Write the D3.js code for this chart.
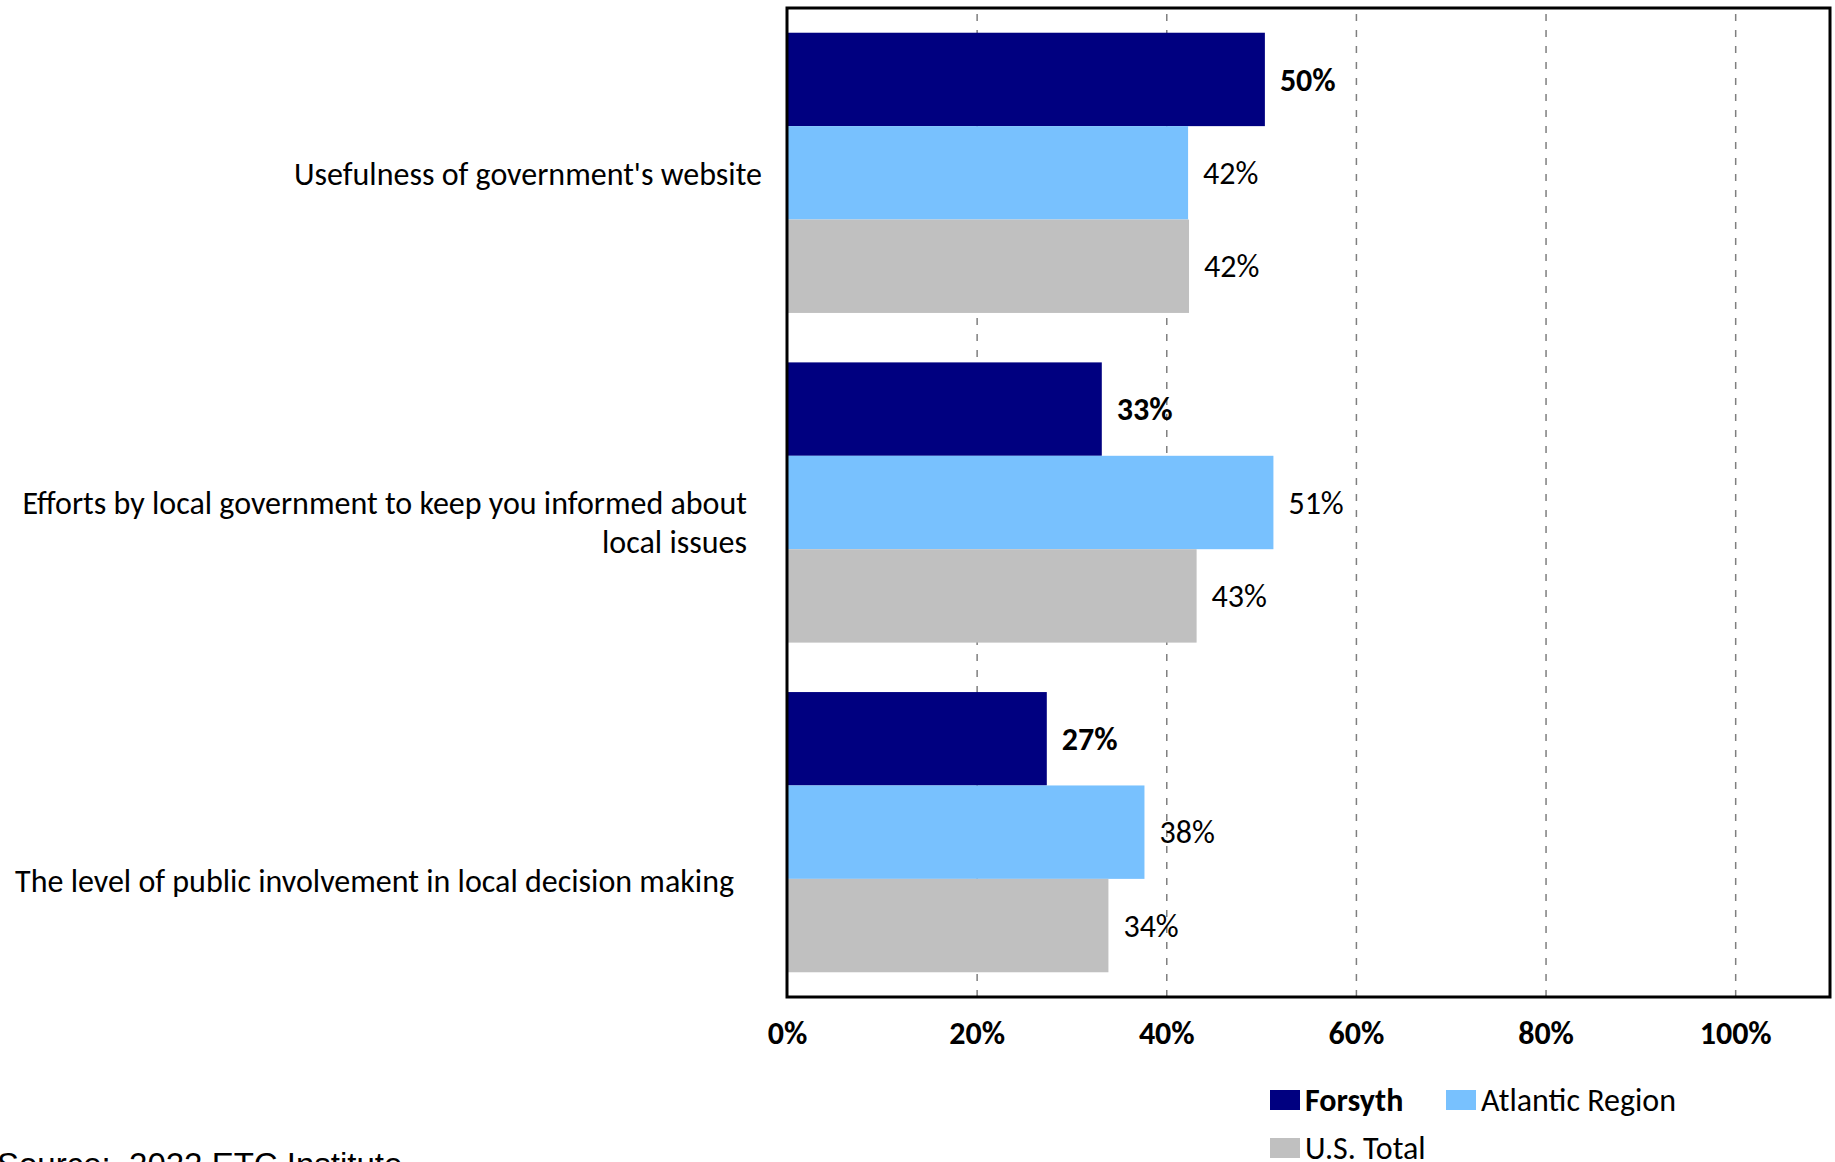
<!DOCTYPE html>
<html>
<head>
<meta charset="utf-8">
<script src="https://cdn.jsdelivr.net/npm/d3@7"></script>
<style>
  html, body { margin: 0; padding: 0; background: #fff; overflow: hidden; }
  svg { display: block; }
</style>
</head>
<body>
<svg id="chart" width="1835" height="1162"></svg>
<script>
// ---------- data ----------
const categories = [
  "Usefulness of government's website",
  "Efforts by local government to keep you informed about local issues",
  "The level of public involvement in local decision making"
];
const categoryLines = [
  ["Usefulness of government's website"],
  ["Efforts by local government to keep you informed about", "local issues"],
  ["The level of public involvement in local decision making"]
];
const seriesNames = ["Forsyth", "Atlantic Region", "U.S. Total"];
const forsyth  = [50.4, 33.2, 27.4];
const atlantic = [42.3, 51.3, 37.7];
const usTotal  = [42.4, 43.2, 33.9];
const tickValues = [0, 20, 40, 60, 80, 100];
const sourceText = "Source:  2022 ETC Institute";

// ---------- layout / style ----------
const colors = ["#000080", "#78C1FE", "#C0C0C0"];
const FONT = "Carlito, Lato, 'Noto Sans', sans-serif";
const FS = 32;
const plot = { left: 787, right: 1830, top: 8, bottom: 997 };
const labelRight = [762, 747, 734];
const labelDy = [1, 0, 49];
const lineH = 39;

const seriesData = [forsyth, atlantic, usTotal];

const svg = d3.select("#chart");

const x = d3.scaleLinear().domain([0, 110]).range([plot.left, plot.right]);
const y0 = d3.scaleBand().domain(categories).range([plot.top, plot.bottom])
  .paddingInner(0.15).paddingOuter(0.075);
const y1 = d3.scaleBand().domain(seriesNames).range([0, y0.bandwidth()]);
const color = d3.scaleOrdinal().domain(seriesNames).range(colors);

// gridlines
const grid = svg.append("g")
  .attr("transform", `translate(0,${plot.bottom})`)
  .call(d3.axisBottom(x).tickValues(tickValues.filter(d => d > 0))
    .tickSize(-(plot.bottom - plot.top)).tickFormat(""));
grid.select(".domain").remove();
grid.selectAll("line")
  .attr("stroke", "#7f7f7f").attr("stroke-width", 1.5)
  .attr("stroke-dasharray", "7,9");

// bars
const rows = categories.map((c, i) => ({
  cat: c,
  vals: seriesNames.map((s, j) => ({ series: s, value: seriesData[j][i], idx: j }))
}));

const groups = svg.append("g").selectAll("g").data(rows).join("g")
  .attr("transform", d => `translate(0,${y0(d.cat)})`);

groups.selectAll("rect").data(d => d.vals).join("rect")
  .attr("x", x(0))
  .attr("y", d => y1(d.series))
  .attr("width", d => x(d.value) - x(0))
  .attr("height", y1.bandwidth())
  .attr("fill", d => color(d.series));

groups.selectAll("text").data(d => d.vals).join("text")
  .attr("x", d => x(d.value) + 15)
  .attr("y", d => y1(d.series) + y1.bandwidth() / 2)
  .attr("dy", "0.35em")
  .attr("font-family", FONT)
  .attr("font-size", FS)
  .attr("font-weight", d => d.idx === 0 ? "bold" : "normal")
  .attr("fill", "#000")
  .text(d => Math.round(d.value) + "%");

// plot border
svg.append("rect")
  .attr("x", plot.left).attr("y", plot.top)
  .attr("width", plot.right - plot.left).attr("height", plot.bottom - plot.top)
  .attr("fill", "none").attr("stroke", "#000").attr("stroke-width", 3);

// x axis labels
const xAxis = svg.append("g")
  .attr("transform", `translate(0,${plot.bottom})`)
  .call(d3.axisBottom(x).tickValues(tickValues).tickSize(0).tickPadding(24)
    .tickFormat(d => d + "%"));
xAxis.select(".domain").remove();
xAxis.selectAll("text")
  .attr("font-family", FONT).attr("font-size", FS)
  .attr("font-weight", "bold").attr("fill", "#000");

// category labels
categoryLines.forEach((lines, i) => {
  const cy = y0(categories[i]) + y0.bandwidth() / 2 + labelDy[i];
  const t = svg.append("text")
    .attr("text-anchor", "end")
    .attr("font-family", FONT).attr("font-size", FS).attr("fill", "#000");
  lines.forEach((ln, k) => {
    t.append("tspan").attr("x", labelRight[i]).attr("y", cy + k * lineH)
      .attr("dy", "0.35em").text(ln);
  });
});

// legend
const legendPos = [[1270, 1100], [1446, 1100], [1270, 1148]];
const legend = svg.append("g");
seriesNames.forEach((s, i) => {
  const [lx, ly] = legendPos[i];
  legend.append("rect").attr("x", lx).attr("y", ly - 10)
    .attr("width", 30).attr("height", 20).attr("fill", color(s));
  legend.append("text").attr("x", lx + 35).attr("y", ly).attr("dy", "0.35em")
    .attr("font-family", FONT).attr("font-size", FS)
    .attr("font-weight", i === 0 ? "bold" : "normal")
    .attr("fill", "#000").text(s);
});

// source
svg.append("text")
  .attr("x", -3).attr("y", 1176)
  .attr("font-family", "'Liberation Sans', Arial, sans-serif")
  .attr("font-size", 33).attr("fill", "#000")
  .attr("xml:space", "preserve")
  .style("white-space", "pre")
  .text(sourceText);
</script>
</body>
</html>
